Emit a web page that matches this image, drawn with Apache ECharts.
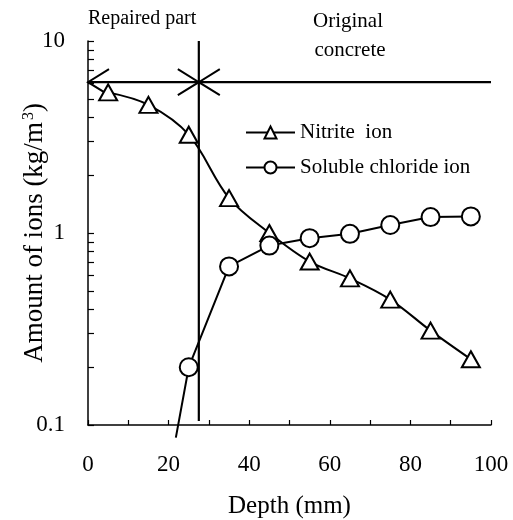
<!DOCTYPE html>
<html>
<head>
<meta charset="utf-8">
<script src="https://cdn.jsdelivr.net/npm/echarts@6/dist/echarts.min.js"></script>
<style>
html,body{margin:0;padding:0;background:#fff;}
#chart{width:513px;height:520px;}
</style>
</head>
<body>
<div id="chart"></div>
<script>
// ---- data ----
const nitriteDepth = [5, 15, 25, 35, 45, 55, 65, 75, 85, 95];
const nitrite = [5.4, 4.65, 3.25, 1.52, 1.0, 0.71, 0.58, 0.45, 0.31, 0.22];
const chlorideDepth = [21.8, 25, 35, 45, 55, 65, 75, 85, 95];
const chloride = [0.086, 0.20, 0.67, 0.86, 0.94, 0.99, 1.10, 1.21, 1.22];
const xTicks = [0, 20, 40, 60, 80, 100];
const yTicks = [0.1, 1, 10];
const yMinorTicks = [0.1,0.2,0.3,0.4,0.5,0.6,0.7,0.8,0.9,1,2,3,4,5,6,7,8,9,10];
const seriesNames = ['Nitrite  ion', 'Soluble chloride ion'];
// annotation: boundary between repaired part and original concrete
const boundaryDepth = 27.5;
const arrowLevel = 6.1;
const segments = [
  [0, arrowLevel, 100, arrowLevel],
  [boundaryDepth, 0.105, boundaryDepth, 10]
];
// arrow tips: [depth, level, direction(-1 = points left, 1 = points right)]
const arrowTips = [
  [0, arrowLevel, -1],
  [boundaryDepth, arrowLevel, 1],
  [boundaryDepth, arrowLevel, -1]
];

const FONT = '"Liberation Serif", "Times New Roman", serif';
const chart = echarts.init(document.getElementById('chart'), null, {renderer: 'canvas'});

const nitriteData = nitriteDepth.map((d, i) => [d, nitrite[i]]);
const chlorideData = chlorideDepth.map((d, i) => {
  const item = {value: [d, chloride[i]]};
  if (chloride[i] < 0.1) item.symbol = 'none';
  return item;
});

const option = {
  backgroundColor: '#fff',
  animation: false,
  grid: {left: 88, right: 22, top: 41, bottom: 95, containLabel: false, outerBoundsMode: 'none'},
  legend: {
    data: seriesNames,
    orient: 'vertical',
    left: 240,
    top: 117,
    itemWidth: 49,
    itemHeight: 15,
    itemGap: 14,
    textStyle: {fontFamily: FONT, fontSize: 21, color: '#000'}
  },
  xAxis: {
    type: 'value',
    min: 0, max: 100, interval: 10,
    name: 'Depth (mm)',
    nameLocation: 'middle',
    nameGap: 69,
    nameTextStyle: {fontFamily: FONT, fontSize: 25, color: '#000'},
    axisLine: {lineStyle: {color: '#000', width: 1.5}},
    axisTick: {inside: true, length: 5, lineStyle: {color: '#000', width: 1.2}},
    axisLabel: {
      fontFamily: FONT, fontSize: 23, color: '#000', margin: 28,
      formatter: v => (xTicks.indexOf(v) >= 0 ? String(v) : '')
    },
    splitLine: {show: false}
  },
  yAxis: {
    type: 'log',
    logBase: 10,
    min: 0.1, max: 10,
    name: 'Amount of ions (kg/m{s|3})',
    nameLocation: 'middle',
    nameRotate: 90,
    nameGap: 40,
    nameMoveOverlap: false,
    nameTextStyle: {
      fontFamily: FONT, fontSize: 27, color: '#000',
      rich: {s: {fontFamily: FONT, fontSize: 16, color: '#000', verticalAlign: 'top', padding: [0, 0, 10, 2]}}
    },
    axisLine: {lineStyle: {color: '#000', width: 1.5}},
    axisTick: {inside: true, length: 6, customValues: yMinorTicks, lineStyle: {color: '#000', width: 1.2}},
    axisLabel: {
      fontFamily: FONT, fontSize: 23, color: '#000', margin: 23,
      customValues: yTicks,
      formatter: v => String(v)
    },
    splitLine: {show: false}
  },
  graphic: [
    {type: 'text', left: 88, top: 9, style: {text: 'Repaired part', font: '20px ' + FONT, fill: '#000'}},
    {type: 'text', x: 348, y: 21, style: {text: 'Original', font: '21px ' + FONT, fill: '#000', align: 'center', verticalAlign: 'middle'}},
    {type: 'text', x: 350, y: 50, style: {text: 'concrete', font: '21px ' + FONT, fill: '#000', align: 'center', verticalAlign: 'middle'}}
  ],
  series: [
    {
      name: seriesNames[0],
      type: 'line',
      data: nitriteData,
      smooth: 0.35,
      symbol: 'triangle',
      symbolSize: [18, 16],
      color: '#000',
      lineStyle: {color: '#000', width: 2},
      itemStyle: {color: '#fff', borderColor: '#000', borderWidth: 2},
      z: 3
    },
    {
      name: seriesNames[1],
      type: 'line',
      data: chlorideData,
      smooth: false,
      clip: false,
      symbol: 'circle',
      symbolSize: 18,
      color: '#000',
      lineStyle: {color: '#000', width: 2},
      itemStyle: {color: '#fff', borderColor: '#000', borderWidth: 2},
      z: 3
    },
    {
      type: 'custom',
      name: 'boundary',
      data: segments,
      clip: false,
      silent: true,
      z: 2,
      renderItem: (params, api) => {
        const p1 = api.coord([api.value(0), api.value(1)]);
        const p2 = api.coord([api.value(2), api.value(3)]);
        return {type: 'line', shape: {x1: p1[0], y1: p1[1], x2: p2[0], y2: p2[1]},
                style: {stroke: '#000', lineWidth: 2.2}};
      }
    },
    {
      type: 'custom',
      name: 'arrows',
      data: arrowTips,
      clip: false,
      silent: true,
      z: 2,
      renderItem: (params, api) => {
        const t = api.coord([api.value(0), api.value(1)]);
        const dir = api.value(2);
        const dx = -dir * 21, dy = 13;
        return {type: 'polyline', shape: {points: [[t[0] + dx, t[1] - dy], t, [t[0] + dx, t[1] + dy]]},
                style: {stroke: '#000', lineWidth: 2, fill: null}};
      }
    }
  ]
};
chart.setOption(option);
</script>
</body>
</html>
